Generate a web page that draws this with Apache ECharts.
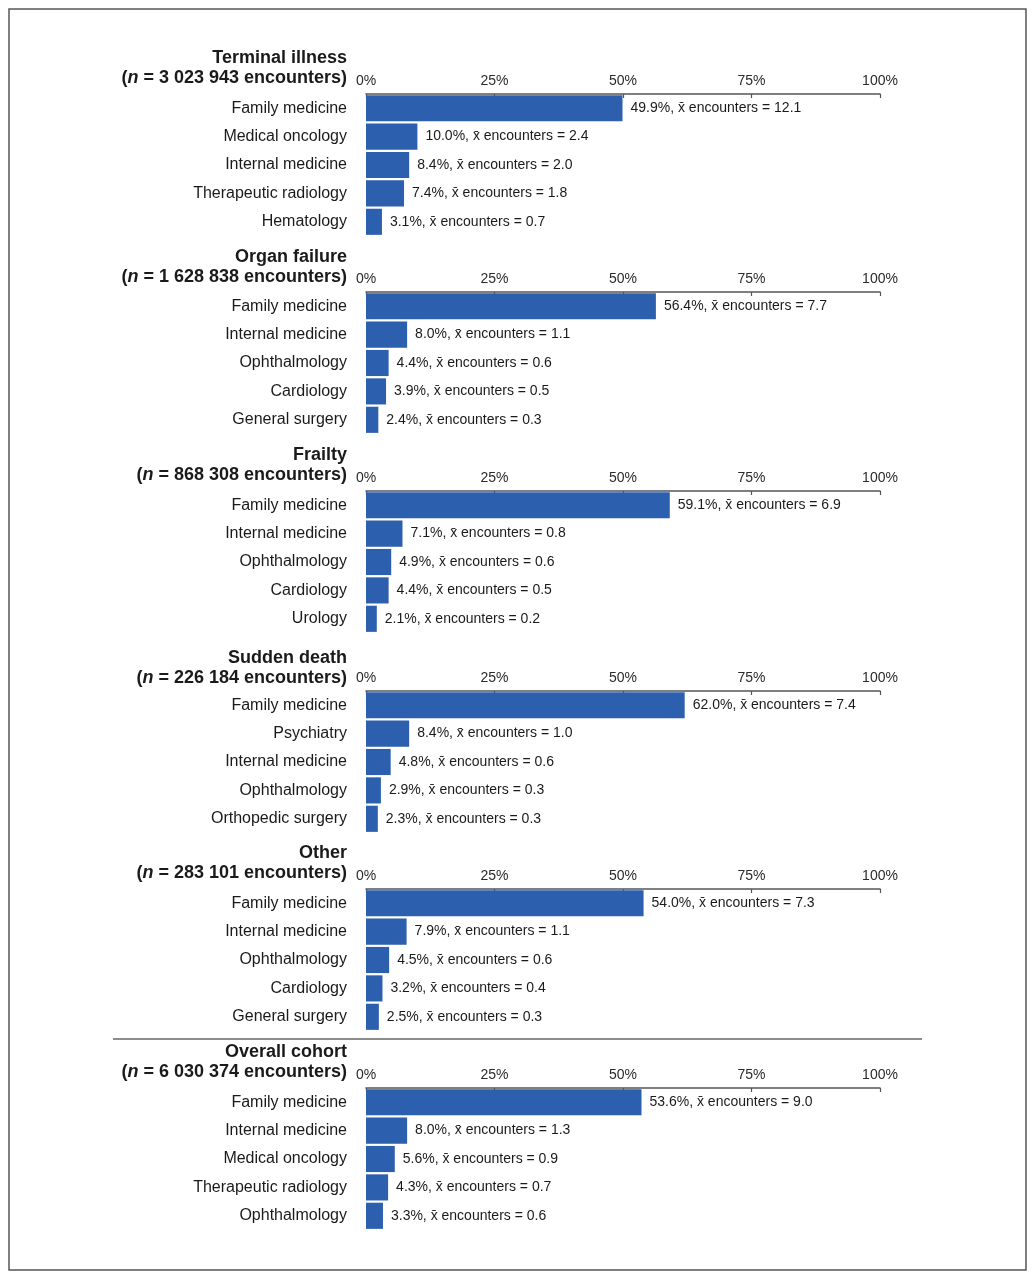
<!DOCTYPE html>
<html><head><meta charset="utf-8">
<script src="https://cdn.jsdelivr.net/npm/echarts@6/dist/echarts.min.js"></script>
<style>html,body{margin:0;padding:0;background:#fff}#c{width:1036px;height:1280px}</style>
</head><body><div id="c"></div>
<script>
// ---- data ----
const panelTitles = ['Terminal illness', 'Organ failure', 'Frailty', 'Sudden death', 'Other', 'Overall cohort'];
const panelCounts = ['3 023 943', '1 628 838', '868 308', '226 184', '283 101', '6 030 374'];

const terminalCats = ['Family medicine', 'Medical oncology', 'Internal medicine', 'Therapeutic radiology', 'Hematology'];
const terminalPct = [49.9, 10.0, 8.4, 7.4, 3.1];
const terminalMean = [12.1, 2.4, 2.0, 1.8, 0.7];

const organCats = ['Family medicine', 'Internal medicine', 'Ophthalmology', 'Cardiology', 'General surgery'];
const organPct = [56.4, 8.0, 4.4, 3.9, 2.4];
const organMean = [7.7, 1.1, 0.6, 0.5, 0.3];

const frailtyCats = ['Family medicine', 'Internal medicine', 'Ophthalmology', 'Cardiology', 'Urology'];
const frailtyPct = [59.1, 7.1, 4.9, 4.4, 2.1];
const frailtyMean = [6.9, 0.8, 0.6, 0.5, 0.2];

const suddenCats = ['Family medicine', 'Psychiatry', 'Internal medicine', 'Ophthalmology', 'Orthopedic surgery'];
const suddenPct = [62.0, 8.4, 4.8, 2.9, 2.3];
const suddenMean = [7.4, 1.0, 0.6, 0.3, 0.3];

const otherCats = ['Family medicine', 'Internal medicine', 'Ophthalmology', 'Cardiology', 'General surgery'];
const otherPct = [54.0, 7.9, 4.5, 3.2, 2.5];
const otherMean = [7.3, 1.1, 0.6, 0.4, 0.3];

const overallCats = ['Family medicine', 'Internal medicine', 'Medical oncology', 'Therapeutic radiology', 'Ophthalmology'];
const overallPct = [53.6, 8.0, 5.6, 4.3, 3.3];
const overallMean = [9.0, 1.3, 0.9, 0.7, 0.6];

const axisMin = 0, axisMax = 100, axisStep = 25;

// ---- layout ----
const panels = [
  [terminalCats, terminalPct, terminalMean],
  [organCats, organPct, organMean],
  [frailtyCats, frailtyPct, frailtyMean],
  [suddenCats, suddenPct, suddenMean],
  [otherCats, otherPct, otherMean],
  [overallCats, overallPct, overallMean]
];
const gridTops = [94, 292, 491, 691, 889, 1088];
const titleTops = [48, 247, 445, 648, 843, 1042];
const FONT = "'Liberation Sans', Arial, Helvetica, sans-serif";
const BAR = '#2c5fae';
const TXT = '#1a1a1a';

const grids = [], xAxes = [], yAxes = [], series = [], titles = [];
panels.forEach((p, i) => {
  const [cats, pct, mean] = p;
  grids.push({ left: 366, width: 514, top: gridTops[i], height: 142, containLabel: false });
  xAxes.push({
    type: 'value', gridIndex: i, position: 'top', min: axisMin, max: axisMax, interval: axisStep,
    axisLine: { show: true, lineStyle: { color: '#555', width: 1.5 } },
    axisTick: { show: true, inside: true, length: 4, lineStyle: { color: '#555', width: 1.2 } },
    axisLabel: { formatter: '{value}%', color: '#2a2a2a', fontSize: 14, fontFamily: FONT, margin: 6 },
    splitLine: { show: false }
  });
  yAxes.push({
    type: 'category', gridIndex: i, data: cats, inverse: true,
    axisLine: { show: false }, axisTick: { show: false },
    axisLabel: { color: TXT, fontSize: 16, fontFamily: FONT, margin: 19 }
  });
  series.push({
    type: 'bar', xAxisIndex: i, yAxisIndex: i, data: pct,
    barCategoryGap: '8%',
    itemStyle: { color: BAR },
    label: {
      show: true, position: 'right', distance: 8, color: TXT, fontSize: 14, fontFamily: FONT,
      formatter: (d) => d.value.toFixed(1) + '%, x\u0304 encounters = ' + mean[d.dataIndex].toFixed(1)
    },
    silent: true, animation: false
  });
  titles.push({
    text: panelTitles[i],
    right: 1036 - 347, top: titleTops[i], padding: 0,
    textStyle: { fontSize: 18, fontWeight: 'bold', fontFamily: FONT, color: TXT, lineHeight: 20 }
  });
  titles.push({
    text: '{b|(}{i|n}{b| = ' + panelCounts[i] + ' encounters)}',
    right: 1036 - 347, top: titleTops[i] + 20, padding: 0,
    textStyle: {
      rich: {
        b: { fontSize: 18, fontWeight: 'bold', fontFamily: FONT, color: TXT, lineHeight: 20 },
        i: { fontSize: 18, fontWeight: 'bold', fontStyle: 'italic', fontFamily: FONT, color: TXT, lineHeight: 20 }
      }
    }
  });
});

const chart = echarts.init(document.getElementById('c'), null, { renderer: 'canvas' });
chart.setOption({
  backgroundColor: '#fff',
  animation: false,
  title: titles,
  grid: grids,
  xAxis: xAxes,
  yAxis: yAxes,
  series: series,
  graphic: [
    { type: 'rect', shape: { x: 9, y: 9, width: 1017, height: 1261 }, style: { fill: 'none', stroke: '#555', lineWidth: 1.5 }, silent: true },
    { type: 'line', shape: { x1: 113, y1: 1039, x2: 922, y2: 1039 }, style: { stroke: '#666', lineWidth: 1.5 }, silent: true }
  ]
});
</script>
</body></html>
